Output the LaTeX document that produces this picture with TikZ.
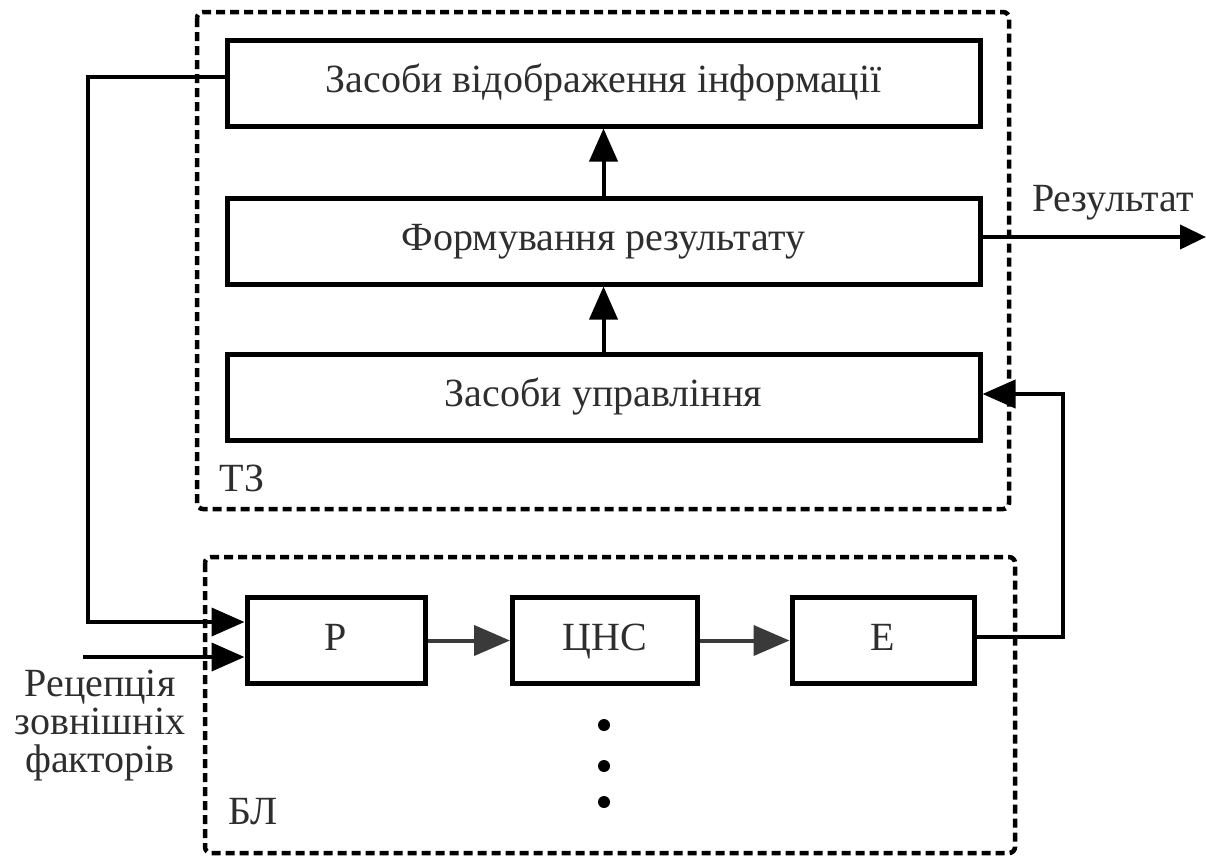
\documentclass[tikz,border=0pt]{standalone}
\usepackage{fontspec}
\setmainfont{Liberation Serif}
\usetikzlibrary{arrows.meta,calc}
\definecolor{txt}{HTML}{2E2E2E}
\definecolor{garr}{HTML}{3A3A3A}
\begin{document}
\begin{tikzpicture}[x=1pt,y=-1pt,
  blk/.style={draw=black, line width=5pt, inner sep=0pt, minimum height=86pt,
              font=\fontsize{40}{42}\selectfont, text=txt, text height=27pt, text depth=8pt},
  wide/.style={blk, minimum width=753pt},
  small/.style={blk, minimum width=182pt},
  dbox/.style={draw=black, line width=4.5pt, dash pattern=on 9pt off 5pt, rounded corners=6pt},
  conn/.style={draw=black, line width=4pt},
  tip/.style={-{Triangle[length=33pt,width=28pt]}},
  lbl/.style={font=\fontsize{40}{38}\selectfont, text=txt, inner sep=0pt}
]
\useasboundingbox (0,0) rectangle (1206,857);

% dashed groups
\draw[dbox] (197,12) rectangle (1009,509);
\draw[dbox] (205,557) rectangle (1015,853);

% TZ blocks
\node[wide] (b1) at (603.5,83) {Засоби відображення інформації};
\node[wide] (b2) at (603.5,241) {Формування результату};
\node[wide] (b3) at (603.5,397) {Засоби управління};

% BL blocks
\node[small, minimum width=178pt] (P) at (336,640.5) {Р};
\node[small, minimum width=185pt] (C) at (605,640.5) {ЦНС};
\node[small, minimum width=182pt] (E) at (883,640.5) {Е};

% labels
\node[lbl] (tz) at (242,478) {ТЗ};
\node[lbl] (bl) at (253,812) {БЛ};
\node[lbl] (res) at (1113,203) {Результат};
\node[lbl, align=center] (rec) at (100,726) {Рецепція\\зовнішніх\\факторів};

% vertical arrows
\draw[conn, tip] (b3.north) -- (b2.south);
\draw[conn, tip] (b2.north) -- (b1.south);

% result
\coordinate (rout) at (1206,237);
\draw[conn, -{Triangle[length=26pt,width=24pt]}] (b2.east |- rout) -- (rout);

% feedback
\coordinate (fb) at (1063,637);
\draw[conn, tip] (E.east |- fb) -- (fb) -- (fb |- 0,394) -- (b3.east |- 0,394);

% left input from display
\coordinate (lc) at (88,77);
\coordinate (in1) at ($(P.west)+(0,-18.5)$);
\coordinate (in2) at ($(P.west)+(0,16.5)$);
\coordinate (src) at (83,0);
\draw[conn, tip] (b1.west |- lc) -- (lc) -- (lc |- in1) -- (in1);
\draw[conn, tip] (src |- in2) -- (in2);

% chain
\draw[draw=garr, line width=4pt, -{Triangle[length=36pt,width=30pt]}, garr] (P.east) -- (C.west);
\draw[draw=garr, line width=4pt, -{Triangle[length=36pt,width=30pt]}, garr] (C.east) -- (E.west);

% dots
\fill (604,725) circle (6pt);
\fill (604,766) circle (6pt);
\fill (604,802) circle (6pt);
\end{tikzpicture}
\end{document}
